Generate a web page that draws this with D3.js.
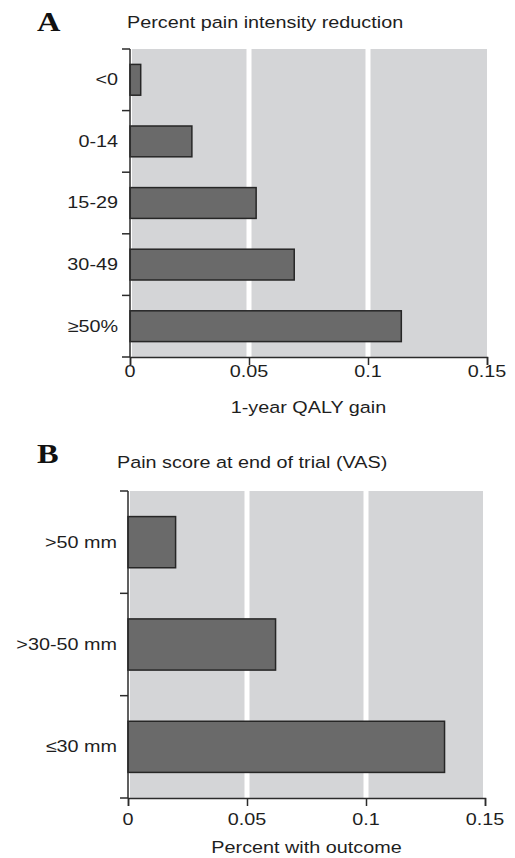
<!DOCTYPE html>
<html>
<head>
<meta charset="utf-8">
<script src="https://cdn.jsdelivr.net/npm/d3@7"></script>
<style>
  html, body { margin: 0; padding: 0; background: #fff; }
  svg { display: block; }
</style>
</head>
<body>
<svg id="chart" width="515" height="858"></svg>
<script>
// Panel A: 1-year QALY gain by percent pain intensity reduction
const painReductionCategories = ["<0", "0-14", "15-29", "30-49", "\u226550%"];
const qalyGain = [0.0045, 0.026, 0.053, 0.069, 0.114];

// Panel B: percent with outcome by VAS pain score at end of trial
const vasCategories = [">50 mm", ">30-50 mm", "\u226430 mm"];
const percentWithOutcome = [0.020, 0.062, 0.133];

// Shared x-axis ticks
const xTickValues = [0, 0.05, 0.1, 0.15];
const xTickLabels = ["0", "0.05", "0.1", "0.15"];
const gridValues = [0.05, 0.1];

const svg = d3.select("#chart");
const SANS = "'Liberation Sans', Arial, Helvetica, sans-serif";
const SERIF = "'Liberation Serif', 'Times New Roman', serif";
const STRETCH = 1.2;           // typeface is set slightly wide
const INK = "#2b2b2b";
const PANEL_BG = "#d4d5d7";
const BAR_FILL = "#6a6a6a";

function stretchedText(g, x, y, str, opts) {
  return g.append("text")
    .attr("transform", `translate(${x},${y}) scale(${STRETCH},1)`)
    .attr("text-anchor", opts.anchor || "start")
    .attr("dominant-baseline", opts.baseline || "auto")
    .attr("font-family", opts.family || SANS)
    .attr("font-size", opts.size || 16.5)
    .attr("font-weight", opts.weight || "normal")
    .attr("fill", opts.fill || "#1e1e1e")
    .text(str);
}

function drawPanel(p) {
  const g = svg.append("g");
  const x = d3.scaleLinear().domain([0, 0.15]).range([p.left, p.right]);
  const y = d3.scaleBand().domain(p.categories).range([p.top, p.bottom]).padding(0);
  const barH = y.bandwidth() * 0.5;

  // panel letter and heading
  stretchedText(g, p.letterX, p.letterY, p.letter, { family: SERIF, size: 27, weight: "bold", fill: "#111" });
  stretchedText(g, p.titleX, p.titleY, p.title, {});

  // grey plotting area
  g.append("rect")
    .attr("x", x(0) + 2).attr("y", p.top)
    .attr("width", x(0.15) - x(0) - 2 - p.bgTrim)
    .attr("height", p.bottom - p.top)
    .attr("fill", PANEL_BG);

  // white vertical gridlines
  g.selectAll("rect.grid").data(gridValues).join("rect")
    .attr("class", "grid")
    .attr("x", d => x(d) - 2.5).attr("y", p.top)
    .attr("width", 5).attr("height", p.bottom - p.top)
    .attr("fill", "#fff");

  // bars
  g.selectAll("rect.bar").data(p.values).join("rect")
    .attr("class", "bar")
    .attr("x", x(0))
    .attr("y", (d, i) => y(p.categories[i]) + (y.bandwidth() - barH) / 2)
    .attr("width", d => x(d) - x(0))
    .attr("height", barH)
    .attr("fill", BAR_FILL)
    .attr("stroke", "#262626")
    .attr("stroke-width", 1.5);

  // y axis: spine and ticks at category boundaries
  const bounds = p.categories.map(c => y(c)).concat([p.bottom]);
  g.append("line")
    .attr("x1", x(0)).attr("x2", x(0))
    .attr("y1", p.top).attr("y2", p.bottom)
    .attr("stroke", INK).attr("stroke-width", 1.5);
  g.selectAll("line.ytick").data(bounds).join("line")
    .attr("class", "ytick")
    .attr("x1", x(0) - 8).attr("x2", x(0))
    .attr("y1", d => d).attr("y2", d => d)
    .attr("stroke", INK).attr("stroke-width", 1.5);

  // category labels
  p.categories.forEach(c => {
    stretchedText(g, p.labelRight, y(c) + y.bandwidth() / 2, c, { anchor: "end", baseline: "central" });
  });

  // x axis
  const xAxis = d3.axisBottom(x).tickValues(xTickValues).tickSize(8).tickFormat("");
  const ax = g.append("g").attr("transform", `translate(0,${p.bottom})`).call(xAxis);
  ax.select(".domain").attr("stroke", INK).attr("stroke-width", 1.5);
  ax.selectAll(".tick line").attr("stroke", INK).attr("stroke-width", 1.5);

  xTickValues.forEach((v, i) => {
    stretchedText(g, x(v), p.bottom + p.tickLabelOffset, xTickLabels[i], { anchor: "middle" });
  });

  stretchedText(g, (x(0) + x(0.15)) / 2, p.bottom + p.axisTitleOffset, p.axisTitle, { anchor: "middle" });
}

drawPanel({
  letter: "A", letterX: 37, letterY: 31,
  title: "Percent pain intensity reduction", titleX: 127, titleY: 28,
  categories: painReductionCategories, values: qalyGain,
  left: 130, right: 487, top: 49, bottom: 357, bgTrim: 0,
  labelRight: 118, tickLabelOffset: 20, axisTitleOffset: 56,
  axisTitle: "1-year QALY gain"
});

drawPanel({
  letter: "B", letterX: 37, letterY: 463,
  title: "Pain score at end of trial (VAS)", titleX: 117, titleY: 468,
  categories: vasCategories, values: percentWithOutcome,
  left: 128, right: 485, top: 491, bottom: 798, bgTrim: 2,
  labelRight: 117, tickLabelOffset: 27, axisTitleOffset: 55,
  axisTitle: "Percent with outcome"
});
</script>
</body>
</html>
